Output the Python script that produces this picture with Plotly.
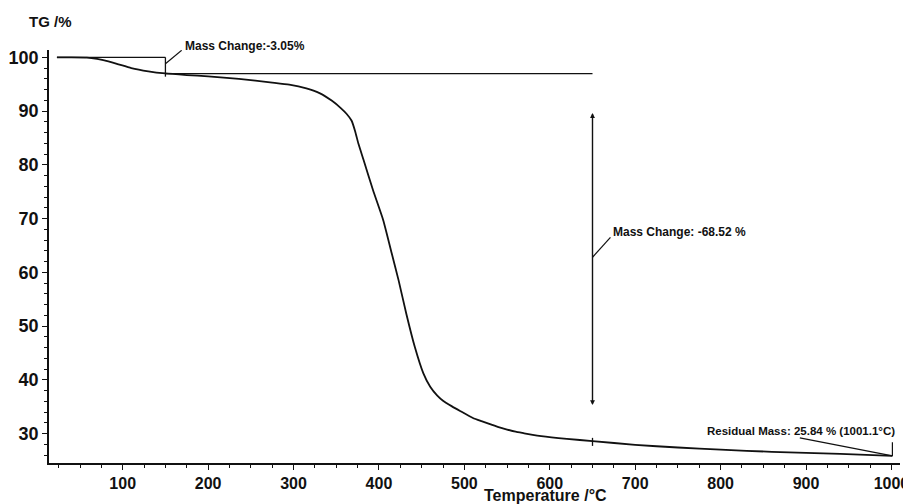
import plotly.graph_objects as go

# ---- data ----
temperature = [23, 40, 58, 70, 82, 95, 110, 130, 150, 175, 200, 236, 275, 295, 315,
               331, 345, 355, 362, 368, 372, 376, 382, 393, 405, 415, 423, 432, 442,
               452, 460, 468, 475, 485, 495, 510, 520, 530, 540, 550, 560, 570, 580,
               590, 620, 650, 700, 750, 800, 860, 940, 1001.1]
tg = [100, 100, 99.95, 99.7, 99.3, 98.7, 98.0, 97.4, 97.0, 96.7, 96.45, 96.0, 95.3, 94.9,
      94.2, 93.3, 91.9, 90.6, 89.5, 88.2, 86.3, 83.9, 80.9, 75.3, 69.7, 63.5, 58.5, 52.3,
      46.1, 41.2, 38.7, 37.1, 36.1, 35.1, 34.2, 32.9, 32.3, 31.75, 31.2, 30.75, 30.35, 30.05,
      29.75, 29.5, 29.0, 28.6, 27.9, 27.4, 27.0, 26.6, 26.2, 25.84]

x_ticks = [100, 200, 300, 400, 500, 600, 700, 800, 900, 1000]
y_ticks = [30, 40, 50, 60, 70, 80, 90, 100]

# step 1 evaluation
step1_start_T = 23
step1_T = 150
step1_start_TG = 100
step1_end_TG = 96.95
step1_marker_bottom = 96.4
step1_leader_T = [150, 169]
step1_leader_TG = [98.8, 101.3]
step1_label = "Mass Change:-3.05%"
step1_label_T = 170.5
step1_label_paper_y = 1.0096

# step 2 evaluation
step2_T = 650
step2_arrow_top = 89.9
step2_arrow_bottom = 35.3
step2_tick_TG = [29.2, 27.7]
step2_leader_T = [650, 671]
step2_leader_TG = [62.8, 66.5]
step2_label = "Mass Change: -68.52 %"
step2_label_pos = (671.5, 67.5)

# residual mass
res_T = 1001.1
res_TG = 25.84
res_leader_T = [892.7, 1001.1]
res_leader_TG = [29.2, 25.84]
res_bracket_TG = [28.4, 25.84]
res_label = "Residual Mass: 25.84 % (1001.1°C)"
res_label_pos = (781.5, 30.5)

FONT = "Liberation Sans, Arial, sans-serif"
BLACK = "#111111"

fig = go.Figure()

fig.add_trace(go.Scatter(x=temperature, y=tg, mode="lines",
                         line=dict(color=BLACK, width=1.8, shape="spline", smoothing=0.5),
                         hoverinfo="skip", showlegend=False))

def seg(xs, ys, w=1.3):
    fig.add_trace(go.Scatter(x=xs, y=ys, mode="lines", line=dict(color=BLACK, width=w),
                             hoverinfo="skip", showlegend=False, cliponaxis=False))

# step 1 construction lines
seg([step1_start_T, step1_T], [step1_start_TG, step1_start_TG])
seg([step1_T, step1_T], [step1_start_TG, step1_marker_bottom])
seg([step1_T, step2_T], [step1_end_TG, step1_end_TG])
seg(step1_leader_T, step1_leader_TG, 1.2)

# step 2 construction
seg([step2_T, step2_T], step2_tick_TG)
seg(step2_leader_T, step2_leader_TG, 1.2)

# residual
seg(res_leader_T, res_leader_TG, 1.2)
seg([res_T, res_T], res_bracket_TG, 1.2)

annotations = [
    dict(x=step2_T, y=step2_arrow_bottom, ax=step2_T, ay=step2_arrow_top,
         xref="x", yref="y", axref="x", ayref="y", text="", showarrow=True,
         arrowside="end+start", arrowhead=2, arrowsize=0.7, arrowwidth=1.4,
         arrowcolor=BLACK),
    dict(x=step1_label_T, y=step1_label_paper_y, xref="x", yref="paper",
         text="<b>" + step1_label + "</b>", showarrow=False, xanchor="left",
         yanchor="middle", font=dict(family=FONT, size=12, color=BLACK)),
    dict(x=step2_label_pos[0], y=step2_label_pos[1], xref="x", yref="y",
         text="<b>" + step2_label + "</b>", showarrow=False, xanchor="left",
         yanchor="middle", font=dict(family=FONT, size=12, color=BLACK)),
    dict(x=res_label_pos[0], y=res_label_pos[1], xref="x", yref="y",
         text="<b>" + res_label + "</b>", showarrow=False, xanchor="left",
         yanchor="middle", font=dict(family=FONT, size=11.5, color=BLACK)),
    dict(x=-0.0262, y=1.0686, xref="paper", yref="paper", text="<b>TG /%</b>",
         showarrow=False, xanchor="left", yanchor="middle",
         font=dict(family=FONT, size=15, color=BLACK)),
    dict(x=0.583, y=-0.079, xref="paper", yref="paper", text="<b>Temperature /°C</b>",
         showarrow=False, xanchor="center", yanchor="middle",
         font=dict(family=FONT, size=16, color=BLACK)),
]

# the page body adds an 8 px offset, so the figure is 8 px smaller on each axis
fig.update_layout(
    width=903, height=496,
    margin=dict(l=41, r=11, t=42, b=41.3, autoexpand=False),
    plot_bgcolor="white", paper_bgcolor="white",
    showlegend=False,
    annotations=annotations,
    font=dict(family=FONT, color=BLACK),
)

fig.update_xaxes(
    range=[13.7, 1010], tickmode="array", tickvals=x_ticks,
    ticktext=["<b>%d</b>" % v for v in x_ticks], automargin=False,
    showgrid=False, zeroline=False, showline=True, linecolor=BLACK, linewidth=1.6,
    ticks="outside", ticklen=5, tickwidth=1.3, tickcolor=BLACK,
    tickfont=dict(family=FONT, size=16, color=BLACK),
    minor=dict(dtick=25, tick0=0, ticks="outside", ticklen=3, tickwidth=1.2,
               tickcolor=BLACK, showgrid=False),
)
fig.update_yaxes(
    range=[24.52, 101.36], tickmode="array", tickvals=y_ticks,
    ticktext=["<b>%d</b>" % v for v in y_ticks], automargin=False,
    showgrid=False, zeroline=False, showline=True, linecolor=BLACK, linewidth=1.6,
    ticks="outside", ticklen=5, tickwidth=1.3, tickcolor=BLACK,
    tickfont=dict(family=FONT, size=18, color=BLACK),
    minor=dict(dtick=2, tick0=0, ticks="outside", ticklen=3, tickwidth=1.2,
               tickcolor=BLACK, showgrid=False),
)

fig.write_html("out.html")
